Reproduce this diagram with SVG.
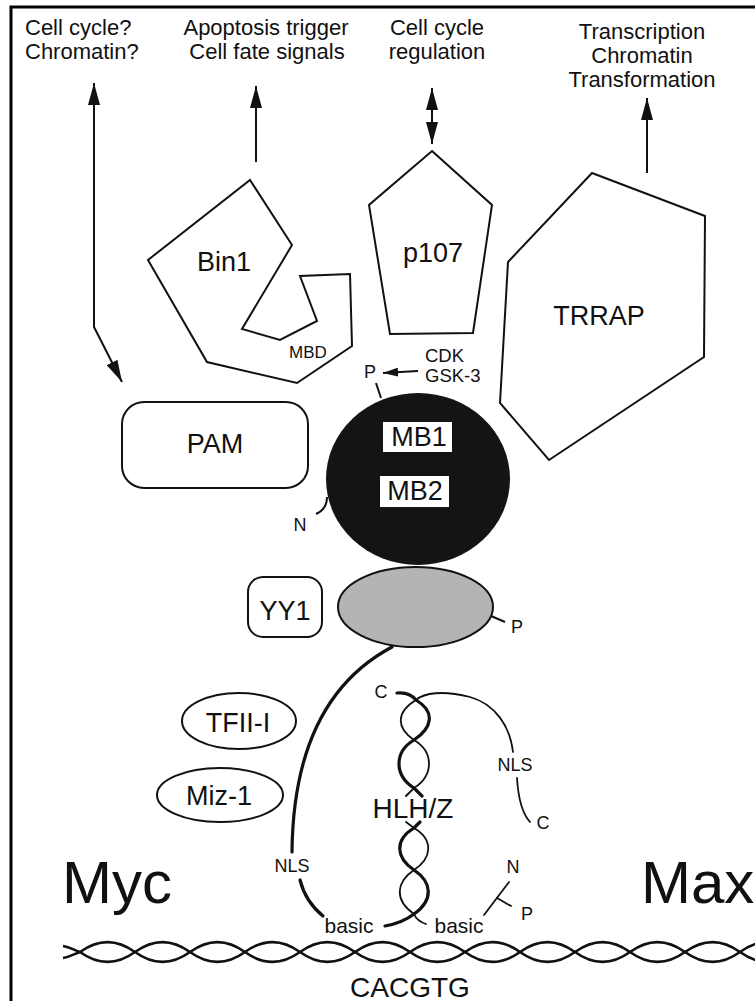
<svg xmlns="http://www.w3.org/2000/svg" width="755" height="1001" viewBox="0 0 755 1001">
  <style>
    text { font-family: "Liberation Sans", Arial, sans-serif; fill: #111; }
    .top { font-size: 22px; text-anchor: middle; }
    .lbl { font-size: 27px; text-anchor: middle; }
    .sm { font-size: 18px; text-anchor: middle; }
    .big { font-size: 60px; }
    .shape { fill: #fff; stroke: #111; stroke-width: 2; stroke-linejoin: miter; }
    .line { fill: none; stroke: #111; stroke-width: 2; }
    .thick { fill: none; stroke: #111; stroke-width: 3.2; stroke-linecap: round; }
    .thin { fill: none; stroke: #111; stroke-width: 1.8; stroke-linecap: round; }
    .dna { fill: none; stroke: #111; stroke-width: 2.6; }
  </style>
  <defs>
    <marker id="head" viewBox="0 0 22 12" refX="22" refY="6" markerWidth="22" markerHeight="12" markerUnits="userSpaceOnUse" orient="auto-start-reverse">
      <path d="M0,0 L22,6 L0,12 z" fill="#111"/>
    </marker>
    <marker id="headSmall" viewBox="0 0 15 9" refX="15" refY="4.5" markerWidth="15" markerHeight="9" markerUnits="userSpaceOnUse" orient="auto">
      <path d="M0,0 L15,4.5 L0,9 z" fill="#111"/>
    </marker>
  </defs>

  <rect width="755" height="1001" fill="#fff"/>
  <!-- frame (top and left edges) -->
  <path d="M11,1001 V7 H755" fill="none" stroke="#000" stroke-width="3"/>

  <!-- outcome labels -->
  <g id="label-chromatin">
    <text x="25" y="35" font-size="22">Cell cycle?</text>
    <text x="25" y="59" font-size="22">Chromatin?</text>
  </g>
  <g id="label-apoptosis">
    <text class="top" x="266" y="35">Apoptosis trigger</text>
    <text class="top" x="267" y="59">Cell fate signals</text>
  </g>
  <g id="label-cellcycle">
    <text class="top" x="437" y="35">Cell cycle</text>
    <text class="top" x="437" y="59">regulation</text>
  </g>
  <g id="label-transcription">
    <text class="top" x="642" y="39">Transcription</text>
    <text class="top" x="642" y="63">Chromatin</text>
    <text class="top" x="642" y="87">Transformation</text>
  </g>

  <!-- connectors -->
  <g id="connectors">
    <path class="line" d="M94,83 V327 L122,382" marker-start="url(#head)" marker-end="url(#head)"/>
    <path class="line" d="M256,162 V86" marker-end="url(#head)"/>
    <path class="line" d="M432,88 V144" marker-start="url(#head)" marker-end="url(#head)"/>
    <path class="line" d="M647,173 V98" marker-end="url(#head)"/>
    <path class="line" d="M418,371 L383,373" marker-end="url(#headSmall)"/>
  </g>

  <!-- partner proteins -->
  <g id="bin1">
    <polygon class="shape" points="250,180 292,245 242,329 280,340 317,321 300,276 350,274 352,346 297,383 207,362 148,260"/>
    <text class="lbl" x="224" y="271" font-size="26">Bin1</text>
    <text x="289" y="358" font-size="17">MBD</text>
  </g>
  <g id="p107">
    <polygon class="shape" points="432,151 492,205 473,333 390,334 369,205"/>
    <text class="lbl" x="433" y="262">p107</text>
  </g>
  <g id="trrap">
    <polygon class="shape" points="592,173 705,216 704,357 549,460 500,403 508,262"/>
    <text class="lbl" x="599" y="325">TRRAP</text>
  </g>
  <g id="cdk">
    <text x="425" y="362" font-size="18.5">CDK</text>
    <text x="425" y="382" font-size="18.5">GSK-3</text>
  </g>
  <g id="pam">
    <rect class="shape" x="122" y="402" width="186" height="86" rx="22"/>
    <text class="lbl" x="215" y="453" font-size="26">PAM</text>
  </g>
  <g id="yy1">
    <rect class="shape" x="248" y="577" width="74" height="60" rx="15"/>
    <text class="lbl" x="285" y="620">YY1</text>
  </g>
  <g id="tfii-i">
    <ellipse class="shape" cx="239" cy="721" rx="57" ry="28"/>
    <text class="lbl" x="238" y="732">TFII-I</text>
  </g>
  <g id="miz-1">
    <ellipse class="shape" cx="220" cy="795" rx="63" ry="27"/>
    <text class="lbl" x="219" y="805">Miz-1</text>
  </g>

  <!-- Myc N-terminal domain with MB1/MB2 -->
  <g id="myc-nterm">
    <path class="line" d="M376,383 L381,398"/>
    <text class="sm" x="370" y="378" font-size="17">P</text>
    <ellipse cx="418" cy="479" rx="92" ry="86" fill="#141414"/>
    <rect x="383" y="422" width="69" height="30" fill="#fff"/>
    <text class="lbl" x="419" y="446">MB1</text>
    <rect x="380" y="476" width="69" height="31" fill="#fff"/>
    <text class="lbl" x="415" y="500">MB2</text>
    <path class="line" d="M327,497 C327,506 323,511 316,514"/>
    <text class="sm" x="300" y="531" font-size="17">N</text>
  </g>
  <g id="myc-central">
    <ellipse cx="415.5" cy="607" rx="77.5" ry="40" fill="#b4b4b4" stroke="#111" stroke-width="2"/>
    <path class="line" d="M491,616 L505,622"/>
    <text class="sm" x="517" y="633" font-size="17">P</text>
  </g>

  <!-- Myc/Max bHLH/Z dimer -->
  <g id="myc-strand">
    <path class="thick" d="M392,647 C330,680 293,745 292,852"/>
    <text class="sm" x="292" y="872">NLS</text>
    <path class="thick" d="M300,880 C304,896 312,907 323,916"/>
    <text x="349" y="933" font-size="21" text-anchor="middle">basic</text>
    <path class="thick" d="M385,926 C396,924 405,921 414,914 C434,900 432,882 414,870 C396,858 394,840 414,828 L420,822"/>
    <path class="thick" d="M397,693 C406,692 412,695 416,700 C436,712 432,728 414,740 C394,752 394,775 414,788 L422,796"/>
    <text class="sm" x="381" y="698">C</text>
  </g>
  <g id="max-strand">
    <path class="thin" d="M416,700 C396,712 396,728 414,740 C434,752 434,775 414,788 L406,796"/>
    <path class="thin" d="M416,700 C424,693 442,690 470,697 C495,704 510,726 513,752"/>
    <text class="sm" x="515" y="771">NLS</text>
    <path class="thin" d="M517,778 C518,795 521,812 530,822"/>
    <text class="sm" x="543" y="829">C</text>
    <path class="thin" d="M426,924 C420,922 416,919 414,914 C394,900 396,882 414,870 C432,858 434,840 414,828 L406,822"/>
    <text x="459" y="933" font-size="21" text-anchor="middle">basic</text>
    <path class="thin" d="M484,915 L509,882"/>
    <path class="thin" d="M497,898 L511,906"/>
    <text class="sm" x="513" y="873">N</text>
    <text class="sm" x="527" y="920">P</text>
  </g>
  <text x="413" y="818" font-size="28" text-anchor="middle">HLH/Z</text>

  <!-- protein names -->
  <text class="big" x="62" y="903">Myc</text>
  <text class="big" x="641" y="903">Max</text>

  <!-- DNA double strand and E-box -->
  <g id="dna">
    <path class="dna" d="M63,958 C70,957 74,954 80,952 C98,939 117,939 135,952 C153,965 172,965 190,952 C208,939 227,939 245,952 C263,965 282,965 300,952 C318,939 337,939 355,952 C373,965 392,965 410,952 C428,939 447,939 465,952 C483,965 502,965 520,952 C538,939 557,939 575,952 C593,965 612,965 630,952 C648,939 667,939 685,952 C703,965 722,965 740,952 C758,939 777,939 795,952"/>
    <path class="dna" d="M63,946 C70,947 74,950 80,952 C98,965 117,965 135,952 C153,939 172,939 190,952 C208,965 227,965 245,952 C263,939 282,939 300,952 C318,965 337,965 355,952 C373,939 392,939 410,952 C428,965 447,965 465,952 C483,939 502,939 520,952 C538,965 557,965 575,952 C593,939 612,939 630,952 C648,965 667,965 685,952 C703,939 722,939 740,952 C758,965 777,965 795,952"/>
    <text x="410" y="997" font-size="28" text-anchor="middle">CACGTG</text>
  </g>
</svg>
